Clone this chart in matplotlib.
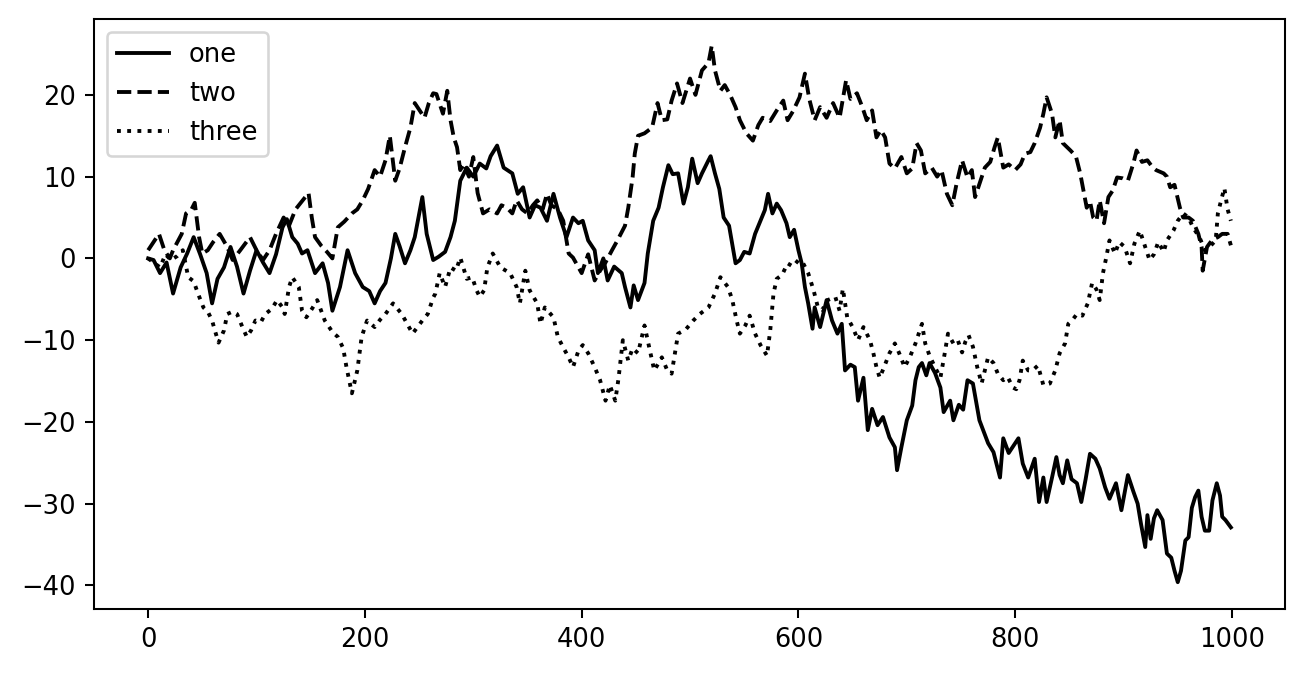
import matplotlib
matplotlib.use('Agg')
import matplotlib.pyplot as plt

# series (x index, value)
one_x = [0, 5, 11, 17, 23, 30, 36, 42, 48, 54, 59, 64, 70, 76, 82, 88, 94, 100, 106, 112, 118, 124, 128, 133, 138, 142, 147, 154, 161, 166, 170, 177, 184, 191, 198, 204, 209, 214, 219, 224, 228, 232, 237, 242, 246, 253, 257, 263, 268, 274, 279, 283, 288, 294, 300, 306, 312, 316, 322, 328, 336, 341, 346, 352, 357, 362, 368, 374, 380, 386, 392, 397, 401, 406, 412, 415, 420, 424, 430, 437, 440, 445, 448, 452, 458, 461, 466, 471, 475, 480, 484, 489, 494, 498, 502, 507, 511, 517, 519, 523, 527, 531, 536, 542, 546, 550, 555, 560, 565, 569, 572, 576, 580, 584, 589, 592, 596, 600, 603, 606, 609, 613, 615, 620, 626, 631, 636, 640, 643, 648, 652, 655, 660, 664, 668, 673, 678, 684, 689, 691, 695, 700, 705, 708, 711, 714, 718, 721, 726, 731, 734, 740, 743, 748, 752, 756, 761, 767, 775, 780, 786, 789, 794, 798, 803, 807, 812, 818, 822, 826, 829, 834, 838, 841, 844, 848, 852, 857, 861, 865, 869, 874, 878, 883, 887, 893, 898, 904, 909, 913, 916, 920, 922, 925, 928, 931, 936, 940, 944, 947, 950, 953, 957, 960, 963, 966, 969, 972, 975, 979, 982, 986, 989, 991, 994, 999]
one_y = [0.0, -0.2, -1.8, -0.5, -4.3, -1.1, 0.6, 2.6, 0.5, -1.8, -5.5, -2.5, -1.1, 1.4, -1.0, -4.3, -1.5, 1.0, -0.5, -1.8, 0.5, 3.8, 4.8, 2.6, 1.8, 0.6, 1.0, -1.8, -0.6, -3.0, -6.4, -3.5, 1.0, -1.8, -3.5, -4.0, -5.5, -4.0, -3.0, 0.0, 3.0, 1.5, -0.6, 1.0, 2.6, 7.5, 3.0, -0.2, 0.2, 0.8, 2.6, 4.6, 9.5, 11.1, 10.0, 11.6, 11.0, 12.5, 13.8, 11.1, 10.4, 7.9, 8.7, 5.0, 6.5, 6.2, 4.6, 7.9, 5.0, 2.6, 5.0, 4.3, 4.6, 2.2, 1.0, -1.8, 0.0, -2.7, -1.0, -1.8, -3.5, -6.0, -3.3, -5.1, -3.0, 0.6, 4.6, 6.2, 8.7, 11.4, 10.3, 10.4, 6.7, 8.7, 12.2, 9.2, 10.4, 12.0, 12.5, 10.4, 8.5, 5.0, 4.0, -0.6, -0.2, 0.8, 0.6, 3.0, 4.6, 5.9, 7.9, 5.5, 6.7, 5.9, 4.3, 2.6, 3.5, 1.0, -0.6, -3.5, -5.5, -8.6, -6.0, -8.4, -5.1, -7.6, -9.2, -8.0, -13.7, -13.0, -13.3, -17.4, -14.6, -21.0, -18.4, -20.4, -19.4, -21.9, -23.1, -25.9, -23.1, -19.8, -18.0, -14.9, -13.3, -12.8, -14.3, -12.8, -14.0, -15.8, -18.8, -17.4, -19.8, -17.9, -18.5, -14.9, -15.3, -19.8, -22.6, -23.7, -26.8, -22.0, -23.8, -23.0, -22.0, -25.1, -26.8, -24.5, -29.8, -26.8, -29.8, -26.8, -24.3, -26.5, -27.5, -24.7, -27.0, -27.5, -29.8, -27.0, -23.9, -24.5, -25.7, -28.0, -29.4, -27.5, -30.8, -26.5, -28.5, -30.0, -32.4, -35.3, -31.4, -34.3, -31.8, -30.8, -32.0, -36.1, -36.6, -38.2, -39.6, -38.2, -34.5, -34.1, -30.5, -29.2, -28.4, -31.6, -33.3, -33.3, -29.6, -27.5, -29.0, -31.6, -32.0, -32.9]

two_x = [0, 5, 10, 15, 20, 23, 27, 31, 35, 40, 43, 47, 50, 55, 60, 66, 73, 78, 85, 94, 100, 106, 112, 118, 125, 130, 136, 142, 148, 151, 154, 160, 165, 170, 175, 181, 188, 193, 198, 203, 209, 214, 219, 223, 228, 232, 237, 242, 246, 251, 255, 259, 263, 266, 272, 276, 279, 282, 285, 288, 291, 296, 300, 304, 309, 315, 322, 326, 331, 336, 340, 345, 350, 355, 359, 364, 368, 372, 378, 383, 388, 392, 397, 400, 406, 412, 417, 422, 428, 433, 440, 443, 447, 449, 452, 458, 465, 470, 474, 479, 483, 488, 493, 500, 505, 511, 517, 520, 523, 528, 532, 537, 542, 546, 552, 558, 563, 567, 574, 580, 586, 590, 595, 601, 606, 610, 615, 620, 626, 632, 638, 644, 648, 654, 659, 663, 668, 672, 676, 680, 684, 689, 695, 700, 705, 709, 713, 717, 723, 728, 732, 737, 742, 746, 751, 756, 760, 763, 768, 772, 777, 781, 784, 789, 794, 800, 805, 809, 814, 818, 823, 826, 829, 834, 837, 841, 844, 851, 856, 860, 863, 866, 869, 872, 875, 878, 882, 886, 890, 894, 899, 904, 909, 912, 917, 922, 927, 930, 937, 940, 943, 947, 952, 955, 960, 964, 969, 972, 973, 977, 982, 987, 991, 996, 999]
two_y = [1.0, 2.0, 3.0, 1.0, 0.0, 1.0, 2.0, 3.0, 5.5, 6.0, 6.8, 2.6, 0.6, 1.0, 2.0, 3.0, 1.4, -0.2, 1.0, 2.6, 1.0, -0.2, 1.0, 3.0, 5.0, 4.0, 6.0, 7.0, 8.0, 5.0, 2.6, 1.5, 0.8, 0.0, 3.8, 4.5, 5.5, 6.0, 7.1, 8.5, 10.8, 10.0, 12.0, 15.0, 9.5, 11.0, 13.6, 16.0, 19.0, 18.0, 17.2, 19.0, 20.2, 20.1, 17.7, 20.5, 16.9, 14.8, 13.6, 10.8, 11.6, 10.0, 12.4, 8.0, 5.5, 6.0, 5.5, 6.5, 6.2, 5.5, 7.1, 6.0, 5.5, 6.5, 7.1, 6.0, 7.9, 6.5, 6.0, 4.6, 0.6, 0.1, -1.1, -1.8, 0.5, -2.7, -1.5, -0.5, 1.0, 2.2, 4.0, 6.2, 9.9, 12.8, 15.0, 15.3, 16.0, 19.0, 16.9, 17.0, 19.3, 21.4, 19.0, 22.0, 20.0, 23.0, 23.9, 26.0, 23.0, 20.5, 21.2, 20.0, 18.5, 16.9, 15.3, 14.4, 16.3, 17.2, 16.8, 18.1, 19.3, 16.9, 18.0, 19.7, 22.6, 19.5, 16.9, 18.5, 17.2, 19.0, 17.2, 21.8, 19.5, 20.2, 18.5, 16.9, 18.1, 14.8, 15.7, 14.8, 11.6, 11.0, 12.4, 10.4, 11.0, 14.1, 13.2, 10.4, 11.1, 10.0, 10.8, 7.9, 6.5, 9.2, 12.0, 9.9, 10.8, 7.5, 9.5, 11.1, 11.8, 13.6, 14.8, 11.1, 11.5, 10.8, 11.5, 12.8, 13.0, 14.1, 16.0, 17.7, 19.7, 17.7, 14.8, 16.9, 14.1, 13.2, 12.5, 10.4, 8.3, 6.2, 7.0, 5.0, 4.6, 7.1, 4.3, 7.5, 8.3, 9.9, 9.8, 9.5, 11.6, 13.2, 11.8, 12.0, 11.1, 10.8, 10.4, 10.0, 8.7, 9.0, 6.2, 5.0, 5.0, 4.6, 3.0, 1.4, -1.5, 1.4, 2.3, 2.6, 3.0, 3.0, 1.6]

three_x = [0, 5, 11, 16, 21, 27, 32, 37, 42, 46, 51, 55, 59, 62, 65, 70, 73, 78, 82, 87, 91, 95, 99, 104, 108, 114, 119, 124, 126, 130, 133, 139, 142, 146, 151, 156, 163, 170, 175, 180, 183, 188, 193, 197, 202, 209, 214, 219, 226, 234, 244, 253, 258, 263, 265, 269, 274, 279, 284, 288, 294, 299, 303, 306, 310, 313, 318, 325, 334, 340, 343, 348, 352, 359, 362, 366, 374, 378, 383, 388, 392, 397, 401, 406, 412, 417, 422, 426, 431, 434, 438, 443, 447, 452, 458, 463, 467, 474, 479, 483, 489, 496, 503, 509, 517, 523, 528, 535, 539, 543, 546, 551, 555, 560, 565, 571, 574, 577, 580, 585, 590, 595, 600, 604, 609, 614, 618, 622, 627, 634, 638, 641, 645, 650, 655, 660, 666, 669, 672, 675, 679, 684, 689, 693, 698, 703, 708, 711, 714, 717, 721, 726, 731, 735, 738, 743, 747, 751, 754, 757, 761, 765, 769, 775, 780, 784, 789, 793, 798, 801, 804, 807, 812, 816, 821, 826, 832, 837, 841, 846, 849, 853, 857, 862, 867, 871, 875, 878, 881, 884, 887, 892, 896, 901, 906, 910, 915, 920, 924, 928, 932, 937, 940, 946, 950, 955, 960, 964, 970, 975, 980, 985, 987, 990, 993, 996, 999]
three_y = [0.0, -0.5, -1.1, 0.5, -0.2, 0.3, 1.0, -2.3, -2.8, -4.3, -6.0, -6.5, -7.6, -9.0, -10.3, -8.8, -6.8, -6.5, -6.8, -8.4, -9.6, -8.8, -7.6, -7.8, -6.8, -6.2, -5.1, -6.0, -6.8, -3.5, -2.3, -3.5, -6.4, -7.2, -6.2, -5.1, -7.6, -9.0, -9.6, -11.0, -13.3, -16.5, -13.7, -9.6, -7.6, -8.4, -7.5, -6.8, -5.5, -6.8, -9.2, -7.6, -6.8, -4.8, -4.3, -1.8, -3.5, -1.1, -1.5, 0.1, -2.5, -2.3, -3.9, -4.7, -3.9, -1.1, 0.6, -1.1, -1.8, -3.5, -5.5, -1.5, -3.9, -5.5, -8.0, -6.0, -7.2, -9.6, -10.9, -12.1, -13.3, -11.3, -10.6, -11.6, -13.3, -14.9, -17.4, -15.5, -17.4, -14.7, -10.0, -12.5, -11.0, -11.6, -8.2, -11.3, -13.7, -12.1, -13.7, -14.1, -9.2, -8.7, -7.6, -6.8, -6.0, -4.3, -2.3, -3.5, -5.1, -7.6, -9.2, -8.2, -7.0, -9.2, -10.6, -11.9, -8.8, -4.3, -2.5, -2.0, -0.6, -1.0, -0.2, -0.5, -1.8, -3.9, -6.0, -6.3, -5.1, -4.7, -6.4, -3.7, -7.2, -8.4, -10.0, -8.4, -10.0, -11.5, -13.3, -14.6, -13.3, -11.6, -10.4, -11.6, -13.3, -12.0, -10.4, -9.2, -8.0, -10.4, -11.9, -13.3, -14.6, -11.6, -9.2, -10.4, -10.0, -11.5, -10.2, -9.4, -10.8, -13.3, -15.3, -12.1, -12.8, -14.1, -14.9, -14.5, -15.8, -16.0, -14.9, -12.5, -13.7, -13.7, -13.1, -15.5, -15.3, -13.7, -11.6, -10.4, -8.0, -7.5, -6.8, -7.0, -5.5, -3.0, -3.8, -5.1, -1.8, 0.1, 2.2, 0.6, 2.0, 1.4, -0.6, 1.8, 3.4, 1.4, -0.2, 0.5, 2.0, 0.8, 2.2, 3.4, 4.6, 5.5, 5.0, 3.8, 2.6, 1.0, 1.5, 2.2, 5.5, 7.1, 8.6, 6.0, 4.6]

fig = plt.figure(figsize=(1303 / 185, 674 / 185), dpi=185)
ax = fig.add_axes([94 / 1303, 65 / 674, 1191 / 1303, 590 / 674])
ax.plot(one_x, one_y, 'k', label='one')
ax.plot(two_x, two_y, 'k--', label='two')
ax.plot(three_x, three_y, 'k:', label='three')
ax.legend(loc='upper left')
fig.savefig('out.png', dpi=185)
